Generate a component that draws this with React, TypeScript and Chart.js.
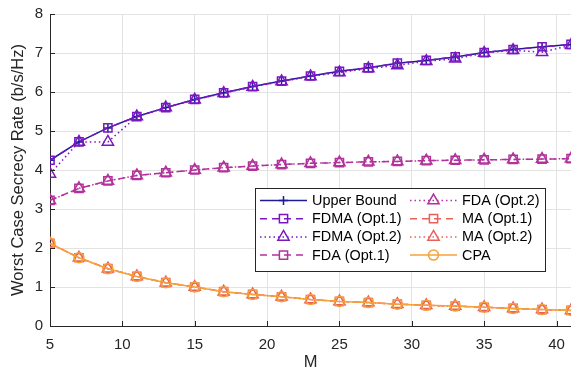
import React, { useEffect, useRef } from 'react';
import { Chart, registerables } from 'chart.js';
import { drawPoint } from 'chart.js/helpers';

Chart.register(...registerables);

const M = [5, 7, 9, 11, 13, 15, 17, 19, 21, 23, 25, 27, 29, 31, 33, 35, 37, 39, 41];
const upperBound = [4.25, 4.72, 5.08, 5.37, 5.6, 5.81, 5.98, 6.14, 6.28, 6.41, 6.53, 6.62, 6.74, 6.81, 6.9, 7.01, 7.09, 7.16, 7.22];
const fdmaOpt1 = [4.25, 4.72, 5.08, 5.37, 5.6, 5.81, 5.98, 6.14, 6.28, 6.41, 6.53, 6.62, 6.74, 6.81, 6.9, 7.01, 7.09, 7.16, 7.22];
const fdmaOpt2 = [3.9, 4.72, 4.72, 5.37, 5.6, 5.8, 5.97, 6.13, 6.27, 6.4, 6.5, 6.6, 6.68, 6.79, 6.85, 7.0, 7.07, 7.02, 7.2];
const fdaOpt1 = [3.22, 3.53, 3.72, 3.86, 3.93, 4.0, 4.06, 4.1, 4.14, 4.17, 4.19, 4.21, 4.22, 4.24, 4.25, 4.26, 4.27, 4.28, 4.29];
const fdaOpt2 = [3.22, 3.53, 3.72, 3.86, 3.93, 4.0, 4.06, 4.1, 4.14, 4.17, 4.19, 4.21, 4.22, 4.24, 4.25, 4.26, 4.27, 4.28, 4.29];
const maOpt1 = [2.12, 1.75, 1.47, 1.27, 1.11, 1.0, 0.88, 0.81, 0.75, 0.68, 0.63, 0.6, 0.56, 0.53, 0.51, 0.48, 0.45, 0.42, 0.4];
const maOpt2 = [2.12, 1.75, 1.47, 1.27, 1.11, 1.0, 0.88, 0.81, 0.75, 0.68, 0.63, 0.6, 0.56, 0.53, 0.51, 0.48, 0.45, 0.42, 0.4];
const cpa = [2.12, 1.75, 1.47, 1.27, 1.11, 1.0, 0.88, 0.81, 0.75, 0.68, 0.63, 0.6, 0.56, 0.53, 0.51, 0.48, 0.45, 0.42, 0.4];

const seriesNames = ['Upper Bound', 'FDMA (Opt.1)', 'FDMA (Opt.2)', 'FDA (Opt.1)', 'FDA (Opt.2)', 'MA (Opt.1)', 'MA (Opt.2)', 'CPA'];
const yTicks = [0, 1, 2, 3, 4, 5, 6, 7, 8];
const xTicks = [5, 10, 15, 20, 25, 30, 35, 40];

const FONT = '"Liberation Sans", Arial, Helvetica, sans-serif';
const NAVY = '#1c1c96';
const PURPLE = '#7a18c0';
const MAGENTA = '#b2329c';
const SALMON = '#e8605c';
const ORANGE = '#f6a238';

const pts = (arr: number[]) => M.map((m, i) => ({ x: m, y: arr[i] }));

const legendPlugin = {
  id: 'boxLegend',
  afterDraw(chart: any) {
    const ctx = chart.ctx;
    const area = chart.chartArea;
    const x0 = area.left + 205;
    const y0 = area.top + 174;
    const w = 290;
    const h = 83;
    ctx.save();
    ctx.fillStyle = '#ffffff';
    ctx.fillRect(x0, y0, w, h);
    ctx.strokeStyle = '#262626';
    ctx.lineWidth = 1;
    ctx.setLineDash([]);
    ctx.strokeRect(x0 + 0.5, y0 + 0.5, w, h);
    ctx.font = '14.4px ' + FONT;
    ctx.textBaseline = 'middle';
    chart.data.datasets.forEach((ds: any, i: number) => {
      const col = Math.floor(i / 4);
      const row = i % 4;
      const lx = x0 + 5 + col * 150;
      const ly = y0 + 12.5 + row * 18.2;
      ctx.strokeStyle = ds.borderColor;
      ctx.lineWidth = ds.borderWidth;
      ctx.setLineDash(ds.borderDash || []);
      ctx.beginPath();
      ctx.moveTo(lx, ly);
      ctx.lineTo(lx + 47, ly);
      ctx.stroke();
      ctx.setLineDash([]);
      ctx.fillStyle = ds.pointBackgroundColor;
      ctx.strokeStyle = ds.borderColor;
      ctx.lineWidth = ds.pointBorderWidth;
      drawPoint(ctx, { pointStyle: ds.pointStyle, radius: ds.pointRadius, borderWidth: ds.pointBorderWidth, rotation: 0 } as any, lx + 23.5, ly);
      ctx.fillStyle = '#000000';
      ctx.fillText(ds.label, lx + 52, ly + 0.5);
    });
    ctx.restore();
  },
};

const innerTicksPlugin = {
  id: 'innerTicks',
  afterDatasetsDraw(chart: any) {
    const ctx = chart.ctx;
    const area = chart.chartArea;
    const xs = chart.scales.x;
    const ys = chart.scales.y;
    ctx.save();
    ctx.strokeStyle = '#262626';
    ctx.lineWidth = 1;
    xTicks.forEach((v) => {
      const px = Math.round(xs.getPixelForValue(v)) + 0.5;
      ctx.beginPath();
      ctx.moveTo(px, area.bottom);
      ctx.lineTo(px, area.bottom - 5);
      ctx.stroke();
    });
    yTicks.forEach((v) => {
      const py = Math.round(ys.getPixelForValue(v)) + 0.5;
      ctx.beginPath();
      ctx.moveTo(area.left, py);
      ctx.lineTo(area.left + 5, py);
      ctx.stroke();
    });
    ctx.restore();
  },
};

export default function App() {
  const ref = useRef<HTMLCanvasElement | null>(null);

  useEffect(() => {
    document.body.style.margin = '0';
    if (!ref.current) return;
    const mk = (i: number, arr: number[], color: string, dash: number[], style: string, radius: number) => ({
      label: seriesNames[i],
      data: pts(arr),
      borderColor: color,
      backgroundColor: color,
      borderWidth: 1.5,
      borderDash: dash,
      pointStyle: style,
      pointRadius: radius,
      pointBorderWidth: 1.5,
      pointBackgroundColor: 'rgba(0,0,0,0)',
      pointBorderColor: color,
      tension: 0,
      fill: false,
      order: 7 - i,
    });
    const chart = new Chart(ref.current, {
      type: 'line',
      data: {
        datasets: [
          mk(0, upperBound, NAVY, [], 'cross', 4.5),
          mk(1, fdmaOpt1, PURPLE, [7, 5], 'rect', 5.8),
          mk(2, fdmaOpt2, PURPLE, [1.5, 3], 'triangle', 6.5),
          mk(3, fdaOpt1, MAGENTA, [7, 5], 'rect', 5.8),
          mk(4, fdaOpt2, MAGENTA, [1.5, 3], 'triangle', 6.5),
          mk(5, maOpt1, SALMON, [7, 5], 'rect', 5.8),
          mk(6, maOpt2, SALMON, [1.5, 3], 'triangle', 6.5),
          mk(7, cpa, ORANGE, [], 'circle', 5),
        ] as any,
      },
      options: {
        animation: false,
        responsive: false,
        maintainAspectRatio: false,
        layout: { autoPadding: false, padding: { top: 14, right: -1, left: 0, bottom: 0 } },
        plugins: {
          legend: { display: false },
          tooltip: { enabled: false },
        },
        scales: {
          x: {
            type: 'linear',
            min: 5,
            max: 41,
            afterBuildTicks: (scale: any) => {
              scale.ticks = xTicks.map((v) => ({ value: v }));
            },
            afterFit: (scale: any) => {
              scale.height = 46;
              scale.paddingLeft = 0;
              scale.paddingRight = 0;
            },
            ticks: {
              padding: 10,
              color: '#262626',
              font: { family: FONT, size: 15 },
              maxRotation: 0,
              autoSkip: false,
            },
            grid: { color: '#e3e3e3', drawTicks: false, lineWidth: 1 },
            border: { display: true, color: '#262626', width: 1 },
            title: {
              display: true,
              text: 'M',
              color: '#262626',
              font: { family: FONT, size: 16.5 },
              padding: { top: 0, bottom: 0 },
            },
          },
          y: {
            type: 'linear',
            min: 0,
            max: 8,
            afterBuildTicks: (scale: any) => {
              scale.ticks = yTicks.map((v) => ({ value: v }));
            },
            afterFit: (scale: any) => {
              scale.width = 50;
              scale.paddingTop = 0;
              scale.paddingBottom = 0;
            },
            ticks: {
              padding: 7,
              color: '#262626',
              font: { family: FONT, size: 15 },
            },
            grid: { color: '#e3e3e3', drawTicks: false, lineWidth: 1 },
            border: { display: true, color: '#262626', width: 1 },
            title: {
              display: true,
              text: 'Worst Case Secrecy Rate (b/s/Hz)',
              color: '#262626',
              font: { family: FONT, size: 16.5 },
              padding: { top: 9, bottom: 0 },
            },
          },
        },
      } as any,
      plugins: [innerTicksPlugin, legendPlugin],
    });
    return () => chart.destroy();
  }, []);

  return (
    <div style={{ width: 571, height: 372 }}>
      <canvas ref={ref} width={571} height={372} style={{ display: 'block' }} />
    </div>
  );
}
